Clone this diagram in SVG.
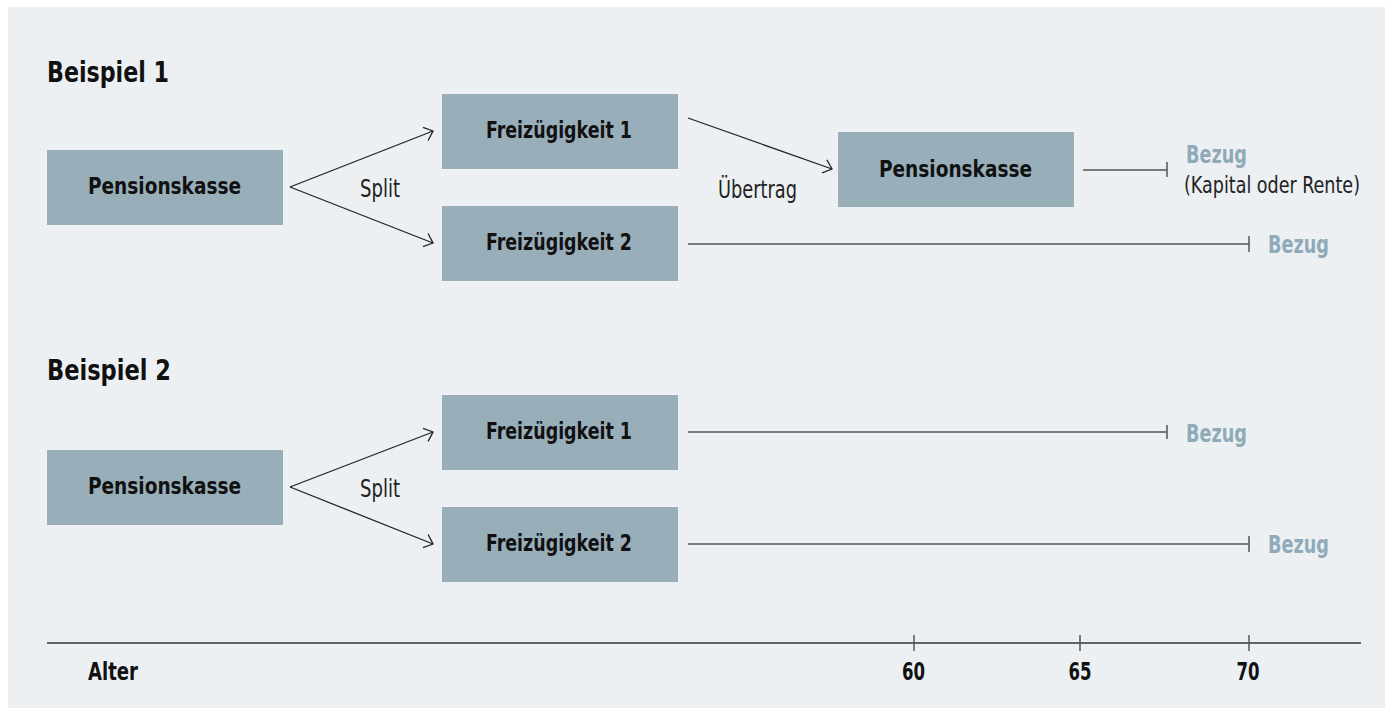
<svg xmlns="http://www.w3.org/2000/svg" width="1389" height="710" viewBox="0 0 1389 710">
<style>
.bg{fill:#ECF0F3}
.box{fill:#98AFBA}
.lbl{font-family:"Liberation Sans Narrow","DejaVu Sans Condensed","Liberation Sans",sans-serif;font-weight:bold;font-size:23.5px;fill:#111;text-anchor:middle}
.ttl{font-family:"Liberation Sans Narrow","DejaVu Sans Condensed","Liberation Sans",sans-serif;font-weight:bold;font-size:28px;fill:#111}
.reg{font-family:"Liberation Sans Narrow","DejaVu Sans Condensed","Liberation Sans",sans-serif;font-size:25.5px;fill:#222}
.small{font-family:"Liberation Sans Narrow","DejaVu Sans Condensed","Liberation Sans",sans-serif;font-size:23px;fill:#222}
.bez{font-family:"Liberation Sans Narrow","DejaVu Sans Condensed","Liberation Sans",sans-serif;font-weight:bold;font-size:25px;fill:#8FAAB8}
.ax{font-family:"Liberation Sans Narrow","DejaVu Sans Condensed","Liberation Sans",sans-serif;font-weight:bold;font-size:24px;fill:#111}
.arr{stroke:#222;stroke-width:1.3;fill:none;marker-end:url(#ah)}
.ln{stroke:#555;stroke-width:1.5;fill:none}
.tk{stroke:#555;stroke-width:1.5;fill:none}
</style>
<defs>
<marker id="ah" markerUnits="userSpaceOnUse" markerWidth="20" markerHeight="20" refX="0" refY="0" viewBox="-12 -10 14 20" orient="auto" overflow="visible">
<path d="M-8,-7 L0,0 L-8,7" fill="none" stroke="#222" stroke-width="1.3"/>
</marker>
</defs>
<rect x="0" y="0" width="1389" height="710" fill="#FFFFFF"/>
<rect class="bg" x="8" y="7" width="1377" height="701"/>

<text class="ttl" x="47" y="82" textLength="122" lengthAdjust="spacingAndGlyphs">Beispiel 1</text>
<text class="ttl" x="47" y="380" textLength="124" lengthAdjust="spacingAndGlyphs">Beispiel 2</text>

<g id="ex1-pk">
<rect class="box" x="47" y="150" width="236" height="75"/>
<text class="lbl" x="164.5" y="194" textLength="153" lengthAdjust="spacingAndGlyphs">Pensionskasse</text>
</g>
<g id="ex1-fz1">
<rect class="box" x="442" y="94" width="236" height="75"/>
<text class="lbl" x="559" y="138" textLength="146" lengthAdjust="spacingAndGlyphs">Freizügigkeit 1</text>
</g>
<g id="ex1-fz2">
<rect class="box" x="442" y="206" width="236" height="75"/>
<text class="lbl" x="559" y="250" textLength="146" lengthAdjust="spacingAndGlyphs">Freizügigkeit 2</text>
</g>
<g id="ex1-pk2">
<rect class="box" x="838" y="132" width="236" height="75"/>
<text class="lbl" x="955.5" y="177" textLength="153" lengthAdjust="spacingAndGlyphs">Pensionskasse</text>
</g>

<g id="ex2-pk">
<rect class="box" x="47" y="450" width="236" height="75"/>
<text class="lbl" x="164.5" y="494" textLength="153" lengthAdjust="spacingAndGlyphs">Pensionskasse</text>
</g>
<g id="ex2-fz1">
<rect class="box" x="442" y="395" width="236" height="75"/>
<text class="lbl" x="559" y="439" textLength="146" lengthAdjust="spacingAndGlyphs">Freizügigkeit 1</text>
</g>
<g id="ex2-fz2">
<rect class="box" x="442" y="507" width="236" height="75"/>
<text class="lbl" x="559" y="551" textLength="146" lengthAdjust="spacingAndGlyphs">Freizügigkeit 2</text>
</g>

<g id="connectors">
<path class="arr" d="M290,187 L433,131"/>
<path class="arr" d="M290,187 L433,243"/>
<path class="arr" d="M688,118 L832,169"/>
<path class="arr" d="M290,487 L433,432"/>
<path class="arr" d="M290,487 L433,544"/>
<path class="ln" d="M1083,170 L1167,170"/>
<path class="tk" d="M1167,162 L1167,177"/>
<path class="ln" d="M688,244 L1249,244"/>
<path class="tk" d="M1249,236 L1249,252"/>
<path class="ln" d="M688,432 L1167,432"/>
<path class="tk" d="M1167,425 L1167,439"/>
<path class="ln" d="M688,544 L1249,544"/>
<path class="tk" d="M1249,536 L1249,552"/>
</g>

<text class="reg" x="360" y="197" textLength="40" lengthAdjust="spacingAndGlyphs">Split</text>
<text class="reg" x="360" y="497" textLength="40" lengthAdjust="spacingAndGlyphs">Split</text>
<text class="reg" x="718" y="198" textLength="79" lengthAdjust="spacingAndGlyphs">Übertrag</text>

<text class="bez" x="1186" y="163" textLength="61" lengthAdjust="spacingAndGlyphs">Bezug</text>
<text class="small" x="1184" y="193" textLength="176" lengthAdjust="spacingAndGlyphs">(Kapital oder Rente)</text>
<text class="bez" x="1268" y="253" textLength="61" lengthAdjust="spacingAndGlyphs">Bezug</text>
<text class="bez" x="1186" y="442" textLength="61" lengthAdjust="spacingAndGlyphs">Bezug</text>
<text class="bez" x="1268" y="553" textLength="61" lengthAdjust="spacingAndGlyphs">Bezug</text>

<g id="axis">
<path d="M47,643 L1361,643" stroke="#333" stroke-width="1.6" fill="none"/>
<path class="tk" d="M914,635 L914,651 M1080,635 L1080,651 M1249,635 L1249,651"/>
<text class="ax" x="88" y="680" textLength="50" lengthAdjust="spacingAndGlyphs">Alter</text>
<text class="ax" x="913.5" y="680" text-anchor="middle" textLength="23" lengthAdjust="spacingAndGlyphs">60</text>
<text class="ax" x="1080" y="680" text-anchor="middle" textLength="23" lengthAdjust="spacingAndGlyphs">65</text>
<text class="ax" x="1248" y="680" text-anchor="middle" textLength="23" lengthAdjust="spacingAndGlyphs">70</text>
</g>
</svg>
